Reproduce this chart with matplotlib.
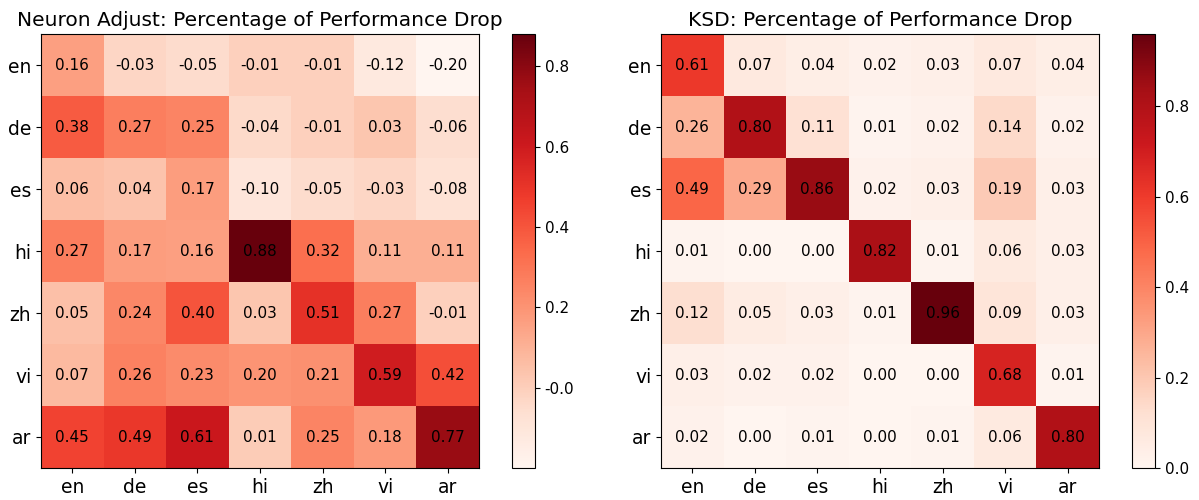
import numpy as np
import matplotlib
matplotlib.use("Agg")
import matplotlib.pyplot as plt

langs = ["en", "de", "es", "hi", "zh", "vi", "ar"]

neuron = np.array([
    [0.16, -0.03, -0.05, -0.01, -0.01, -0.12, -0.20],
    [0.38, 0.27, 0.25, -0.04, -0.01, 0.03, -0.06],
    [0.06, 0.04, 0.17, -0.10, -0.05, -0.03, -0.08],
    [0.27, 0.17, 0.16, 0.88, 0.32, 0.11, 0.11],
    [0.05, 0.24, 0.40, 0.03, 0.51, 0.27, -0.01],
    [0.07, 0.26, 0.23, 0.20, 0.21, 0.59, 0.42],
    [0.45, 0.49, 0.61, 0.01, 0.25, 0.18, 0.77],
])

ksd = np.array([
    [0.61, 0.07, 0.04, 0.02, 0.03, 0.07, 0.04],
    [0.26, 0.80, 0.11, 0.01, 0.02, 0.14, 0.02],
    [0.49, 0.29, 0.86, 0.02, 0.03, 0.19, 0.03],
    [0.01, 0.00, 0.00, 0.82, 0.01, 0.06, 0.03],
    [0.12, 0.05, 0.03, 0.01, 0.96, 0.09, 0.03],
    [0.03, 0.02, 0.02, 0.00, 0.00, 0.68, 0.01],
    [0.02, 0.00, 0.01, 0.00, 0.01, 0.06, 0.80],
])

titles = ["Neuron Adjust: Percentage of Performance Drop",
          "KSD: Percentage of Performance Drop"]

fig = plt.figure(figsize=(11.99, 5), dpi=100)

boxes = [([0.0342, 0.064, 0.3653, 0.868], [0.427, 0.064, 0.0192, 0.868]),
         ([0.5513, 0.064, 0.3653, 0.868], [0.9441, 0.064, 0.0192, 0.868])]

for k, (mat, title) in enumerate(zip([neuron, ksd], titles)):
    ax = fig.add_axes(boxes[k][0])
    cax = fig.add_axes(boxes[k][1])
    im = ax.imshow(mat, cmap="Reds", vmin=mat.min(), vmax=mat.max(), aspect="auto")
    for i in range(len(langs)):
        for j in range(len(langs)):
            ax.text(j, i, f"{mat[i, j]:.2f}", ha="center", va="center",
                    color="black", fontsize=11)
    ax.set_xticks(range(len(langs)))
    ax.set_xticklabels(langs, fontsize=13.5)
    ax.set_yticks(range(len(langs)))
    ax.set_yticklabels(langs, fontsize=13.5)
    ax.set_title(title, fontsize=14.5)
    cb = fig.colorbar(im, cax=cax)
    ticks = [0.0, 0.2, 0.4, 0.6, 0.8]
    cb.set_ticks(ticks)
    if k == 0:
        cb.set_ticklabels(["-0.0", "0.2", "0.4", "0.6", "0.8"])
    cb.ax.tick_params(labelsize=11)

fig.savefig("out.png", dpi=100)
